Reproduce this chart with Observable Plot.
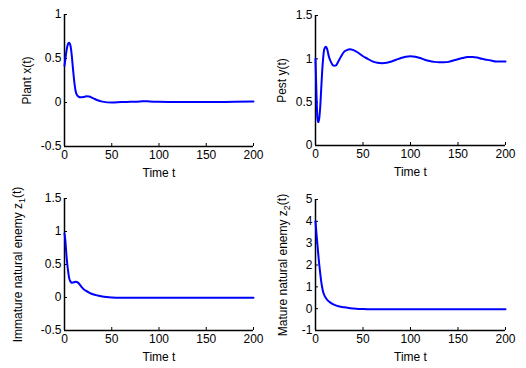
<!DOCTYPE html>
<html><head><meta charset="utf-8">
<script src="https://cdn.jsdelivr.net/npm/d3@7"></script>
<script src="https://cdn.jsdelivr.net/npm/@observablehq/plot@0.6"></script>
<style>
body{margin:0;background:#fff;}
#chart{position:relative;width:526px;height:368px;background:#fff;font-family:"Liberation Sans",Arial,sans-serif;}
#chart svg{position:absolute;}
#chart svg text{font-weight:normal;}
</style></head><body><div id="chart"></div>
<script>
// Time axis ticks
const xTicks = [0, 50, 100, 150, 200];

// Plant x(t)
const tPlant = [0,1,2,3,4,5,6,7,8,9,10,11,12,13,14,15,17,20,23,26,30,35,40,50,60,70,80,85,90,100,120,150,180,200];
const plant  = [0.42,0.5,0.58,0.64,0.67,0.68,0.66,0.6,0.5,0.38,0.27,0.18,0.12,0.09,0.075,0.065,0.06,0.062,0.07,0.068,0.05,0.025,0.01,0.0,0.005,0.008,0.012,0.015,0.012,0.008,0.005,0.005,0.008,0.01];
const plantTicks = [-0.5, 0, 0.5, 1];

// Pest y(t)
const tPest = [0,1,2,3,4,5,6,7,8,9,10,11,12,13,14,16,18,20,22,24,27,30,33,36,40,45,50,55,60,65,70,75,80,85,90,95,100,105,110,115,120,125,130,135,140,145,150,155,160,165,170,175,180,185,190,195,200];
const pest  = [1.0,0.6,0.32,0.27,0.32,0.45,0.65,0.85,1.0,1.1,1.13,1.14,1.12,1.08,1.03,0.97,0.93,0.92,0.93,0.97,1.03,1.08,1.1,1.11,1.1,1.07,1.03,1.0,0.97,0.955,0.95,0.955,0.97,0.99,1.01,1.025,1.03,1.025,1.01,0.99,0.975,0.965,0.96,0.96,0.965,0.98,0.995,1.01,1.02,1.02,1.015,1.0,0.99,0.98,0.97,0.97,0.97];
const pestTicks = [0, 0.5, 1, 1.5];

// Immature natural enemy z1(t)
const tZ1 = [0,1,2,3,4,5,6,7,8,10,12,14,16,18,20,23,26,30,35,40,50,60,80,100,150,200];
const z1  = [0.97,0.85,0.65,0.5,0.38,0.29,0.25,0.23,0.225,0.23,0.24,0.23,0.2,0.16,0.13,0.1,0.075,0.05,0.03,0.015,0.0,-0.005,-0.005,-0.005,-0.005,-0.005];
const z1Ticks = [-0.5, 0, 0.5, 1, 1.5];

// Mature natural enemy z2(t)
const tZ2 = [0,1,2,3,4,5,6,7,8,10,12,15,20,25,30,35,40,50,60,100,150,200];
const z2  = [4.0,3.45,2.95,2.45,2.0,1.6,1.25,0.98,0.78,0.55,0.42,0.3,0.17,0.1,0.06,0.03,0.01,-0.02,-0.03,-0.03,-0.03,-0.03];
const z2Ticks = [-1, 0, 1, 2, 3, 4, 5];

const FONT = '"Liberation Sans", Arial, sans-serif';

function panel({t, v, yTicks, yLabel, sub, left, top, ml, mr, mt, mb, yLabelOffset}) {
  const W = 263, H = 184;
  const data = t.map((d, i) => ({t: d, v: v[i]}));
  const fw = W - ml - mr, fh = H - mt - mb;
  const yDomain = [yTicks[0], yTicks[yTicks.length - 1]];
  const svg = Plot.plot({
    width: W, height: H,
    marginLeft: ml, marginRight: mr, marginTop: mt, marginBottom: mb,
    style: {background: "transparent", fontFamily: FONT, fontSize: "12px", color: "#000", overflow: "visible"},
    x: {domain: [0, 200]},
    y: {domain: yDomain},
    marks: [
      Plot.axisX(xTicks, {tickSize: 0, tickPadding: 4, tickFormat: d => String(d), label: "Time t", labelAnchor: "center", labelOffset: 30, labelArrow: "none", fontSize: 12, fontWeight: "normal"}),
      Plot.axisY(yTicks, {tickSize: 0, tickPadding: 3, tickFormat: d => String(d), label: yLabel, labelAnchor: "center", labelOffset: yLabelOffset, labelArrow: "none", fontSize: 12, fontWeight: "normal"}),
      Plot.tickX(xTicks, {x: d => d, insetTop: fh - 3, stroke: "#000"}),
      Plot.tickY(yTicks, {y: d => d, insetRight: fw - 3, stroke: "#000"}),
      Plot.ruleX([0], {stroke: "#000", strokeWidth: 1.5}),
      Plot.ruleY([yDomain[0]], {stroke: "#000", strokeWidth: 1.5}),
      Plot.line(data, {x: "t", y: "v", stroke: "#0000ff", strokeWidth: 2, curve: "monotone-x"})
    ]
  });
  svg.style.left = left + "px";
  svg.style.top = top + "px";
  if (sub) {
    d3.select(svg).selectAll("text").each(function() {
      if (this.textContent === yLabel) {
        const base = yLabel.slice(0, yLabel.length - 3 - sub.length);
        const s = d3.select(this);
        s.text(null);
        s.append("tspan").text(base);
        s.append("tspan").attr("dy", "0.35em").attr("font-size", "9px").text(sub);
        s.append("tspan").attr("dy", "-0.35em").text("(t)");
      }
    });
  }
  document.getElementById("chart").appendChild(svg);
}

panel({t: tPlant, v: plant, yTicks: plantTicks, yLabel: "Plant x(t)", left: 0, top: 0, ml: 64, mr: 10, mt: 14, mb: 38, yLabelOffset: 42});
panel({t: tPest, v: pest, yTicks: pestTicks, yLabel: "Pest y(t)", left: 263, top: 0, ml: 52, mr: 21, mt: 15, mb: 39, yLabelOffset: 38});
panel({t: tZ1, v: z1, yTicks: z1Ticks, yLabel: "Immature natural enemy z1(t)", sub: "1", left: 0, top: 184, ml: 64, mr: 10, mt: 14, mb: 38, yLabelOffset: 51});
panel({t: tZ2, v: z2, yTicks: z2Ticks, yLabel: "Mature natural enemy z2(t)", sub: "2", left: 263, top: 184, ml: 52, mr: 21, mt: 15, mb: 38, yLabelOffset: 37});
</script></body></html>
